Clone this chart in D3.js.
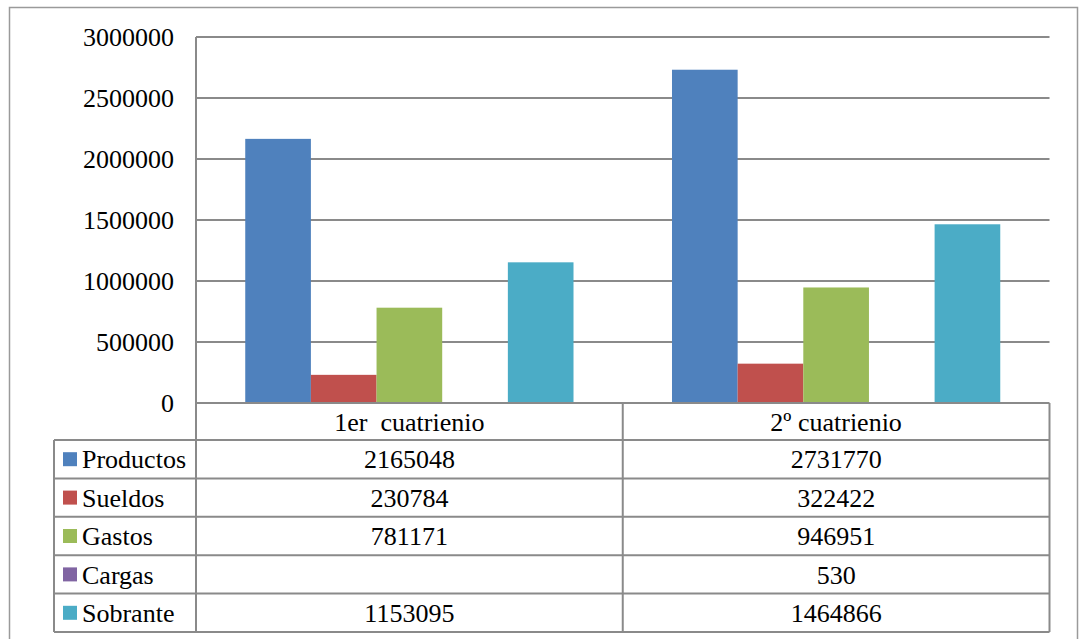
<!DOCTYPE html>
<html>
<head>
<meta charset="utf-8">
<script src="https://cdn.jsdelivr.net/npm/d3@7"></script>
<style>
  svg text { font-family: "Liberation Serif", "Times New Roman", serif !important; }
</style>
</head>
<body style="margin:0">
<svg id="viz" width="1079" height="639"></svg>
<script>
const categories = ["1er  cuatrienio", "2º cuatrienio"];
const seriesNames = ["Productos", "Sueldos", "Gastos", "Cargas", "Sobrante"];
const seriesColors = ["#4F81BD", "#C0504D", "#9BBB59", "#8064A2", "#4BACC6"];
const productos = [2165048, 2731770];
const sueldos = [230784, 322422];
const gastos = [781171, 946951];
const cargas = [null, 530];
const sobrante = [1153095, 1464866];
const yTicks = [0, 500000, 1000000, 1500000, 2000000, 2500000, 3000000];

const seriesValues = [productos, sueldos, gastos, cargas, sobrante];

const svg = d3.select("#viz");
const plot = { left: 196, right: 1049.5, top: 37, bottom: 403 };
const tableLeft = 54;
const tableBottom = 632;
const gridColor = "#8a8a8a";
const fontSize = 26;

const styleText = sel => sel
  .attr("font-family", "Liberation Serif")
  .attr("font-size", fontSize)
  .attr("fill", "#000")
  .style("font-family", "'Liberation Serif', serif", "important");

// outer frame
svg.append("rect")
  .attr("x", 9.5).attr("y", 7.5)
  .attr("width", 1068).attr("height", 650)
  .attr("fill", "none").attr("stroke", "#9a9a9a").attr("stroke-width", 1.5);

const x0 = d3.scaleBand().domain(categories).range([plot.left, plot.right]).paddingInner(0).paddingOuter(0);
const x1 = d3.scaleBand().domain(seriesNames).range([0, x0.bandwidth()]).paddingInner(0).paddingOuter(0.75);
const y = d3.scaleLinear().domain([0, 3000000]).range([plot.bottom, plot.top]);

// y axis labels
const yAxis = d3.axisLeft(y).tickValues(yTicks).tickSize(0).tickPadding(22).tickFormat(d3.format("d"));
const yg = svg.append("g").attr("transform", `translate(${plot.left},0)`).call(yAxis);
yg.attr("font-family", "Liberation Serif").attr("font-size", fontSize);
yg.select(".domain").remove();
yg.selectAll("text").call(styleText).attr("dy", "0.34em");

// gridlines
svg.append("g").selectAll("line").data(yTicks.filter(d => d > 0)).join("line")
  .attr("x1", plot.left).attr("x2", plot.right)
  .attr("y1", d => y(d)).attr("y2", d => y(d))
  .attr("stroke", gridColor).attr("stroke-width", 2);

// bars
const groups = svg.append("g").selectAll("g").data(categories).join("g")
  .attr("transform", d => `translate(${x0(d)},0)`);
groups.selectAll("rect")
  .data((c, ci) => seriesNames.map((s, si) => ({ s, si, v: seriesValues[si][ci] })).filter(d => d.v != null))
  .join("rect")
  .attr("x", d => x1(d.s))
  .attr("width", x1.bandwidth())
  .attr("y", d => y(d.v))
  .attr("height", d => y(0) - y(d.v))
  .attr("fill", d => seriesColors[d.si]);

// data table
const rows = d3.scaleBand().domain(seriesNames).range([440, tableBottom]);
const line = (xa, ya, xb, yb) => svg.append("line")
  .attr("x1", xa).attr("y1", ya).attr("x2", xb).attr("y2", yb)
  .attr("stroke", gridColor).attr("stroke-width", 2);

line(plot.left, plot.bottom, plot.right, plot.bottom);
line(plot.left, plot.top, plot.left, tableBottom);
seriesNames.forEach(s => line(tableLeft, rows(s), plot.right, rows(s)));
line(tableLeft, tableBottom, plot.right, tableBottom);
line(tableLeft, rows(seriesNames[0]), tableLeft, tableBottom);
categories.forEach(c => line(x0(c) + x0.bandwidth(), plot.bottom, x0(c) + x0.bandwidth(), tableBottom));

// header labels
svg.append("g").selectAll("text").data(categories).join("text")
  .attr("x", d => x0(d) + x0.bandwidth() / 2)
  .attr("y", (plot.bottom + 440) / 2)
  .attr("dy", "0.35em")
  .attr("text-anchor", "middle")
  .style("white-space", "pre")
  .call(styleText)
  .text(d => d);

// legend keys + names + values
const rowG = svg.append("g").selectAll("g").data(seriesNames).join("g")
  .attr("transform", d => `translate(0,${rows(d) + rows.bandwidth() / 2})`);
rowG.append("rect")
  .attr("x", 63).attr("y", -7).attr("width", 14).attr("height", 14)
  .attr("fill", (d, i) => seriesColors[i]);
rowG.append("text")
  .attr("x", 82).attr("dy", "0.35em")
  .call(styleText)
  .text(d => d);
rowG.each(function(s, si) {
  d3.select(this).selectAll("text.val").data(categories).join("text")
    .attr("class", "val")
    .attr("x", c => x0(c) + x0.bandwidth() / 2)
    .attr("dy", "0.35em")
    .attr("text-anchor", "middle")
    .call(styleText)
    .text((c, ci) => seriesValues[si][ci] == null ? "" : seriesValues[si][ci]);
});
</script>
</body>
</html>
